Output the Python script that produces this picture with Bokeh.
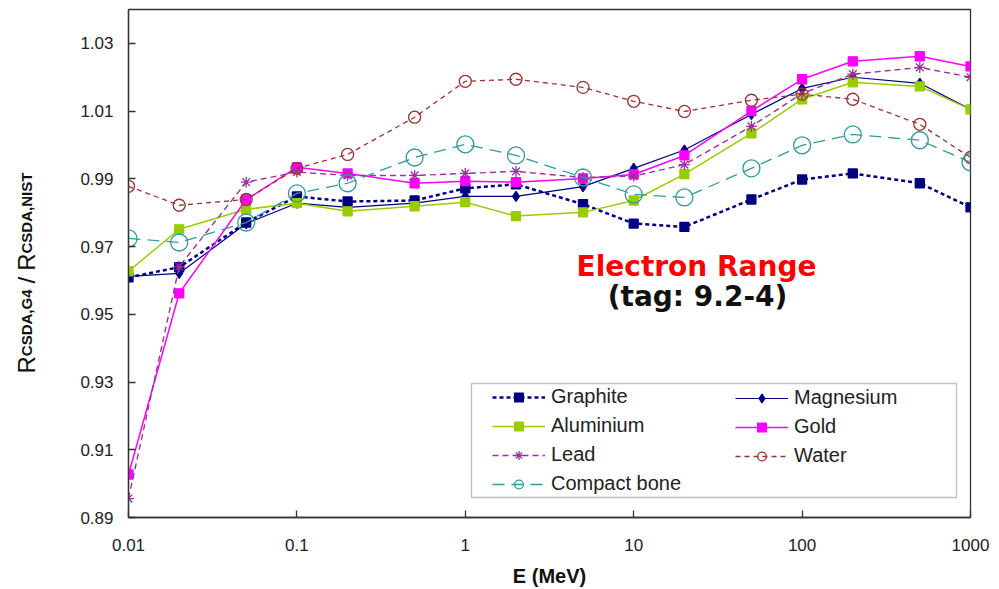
import math
from bokeh.plotting import figure
from bokeh.layouts import row
from bokeh.models import (Legend, LegendItem, Label, BoxAnnotation,
                          FixedTicker, PrintfTickFormatter, CustomJSTickFormatter)
from bokeh.embed import file_html
from bokeh.resources import INLINE

# ---------------- data ----------------
energy = [0.01, 0.02, 0.05, 0.1, 0.2, 0.5, 1, 2, 5, 10, 20, 50, 100, 200, 500, 1000]

graphite = [0.9609, 0.9639, 0.9771, 0.9848, 0.9833, 0.9836, 0.9872, 0.9884,
            0.9825, 0.9768, 0.9758, 0.9839, 0.9898, 0.9916, 0.9887, 0.9816]
magnesium = [0.9612, 0.9621, 0.9768, 0.9828, 0.9816, 0.9828, 0.9848, 0.9848,
             0.9877, 0.9931, 0.9985, 1.0090, 1.0167, 1.0200, 1.0182, 1.0105]
aluminium = [0.9627, 0.9751, 0.9810, 0.9828, 0.9804, 0.9819, 0.9831, 0.9790,
             0.9801, 0.9836, 0.9914, 1.0034, 1.0135, 1.0185, 1.0173, 1.0105]
gold = [0.9027, 0.9562, 0.9839, 0.9934, 0.9916, 0.9887, 0.9893, 0.9890,
        0.9901, 0.9913, 0.9969, 1.0100, 1.0194, 1.0247, 1.0262, 1.0232]
lead = [0.8956, 0.9641, 0.9890, 0.9920, 0.9910, 0.9910, 0.9916, 0.9922,
        0.9904, 0.9908, 0.9942, 1.0055, 1.0152, 1.0209, 1.0229, 1.0200]
water = [0.9878, 0.9822, 0.9839, 0.9931, 0.9972, 1.0082, 1.0188, 1.0194,
         1.0170, 1.0129, 1.0099, 1.0132, 1.0150, 1.0135, 1.0061, 0.9963]
compact_bone = [0.9724, 0.9712, 0.9771, 0.9857, 0.9887, 0.9963, 1.0002, 0.9969,
                0.9904, 0.9854, 0.9845, 0.9931, 0.9999, 1.0031, 1.0014, 0.9949]

x_ticks = [0.01, 0.1, 1, 10, 100, 1000]
y_ticks = [0.89, 0.91, 0.93, 0.95, 0.97, 0.99, 1.01, 1.03]
x_lim = (0.01, 1000)
y_lim = (0.89, 1.04)

# ---------------- layout ----------------
W, H = 999, 589
LW = 60                              # width of the strip holding the y title
FL, FR, FT, FB = 128, 970, 9, 517   # frame edges in page pixels


def px2x(px):
    a, b = math.log10(x_lim[0]), math.log10(x_lim[1])
    return 10 ** (a + (px - FL) / (FR - FL) * (b - a))


def py2y(py):
    return y_lim[0] + (FB - py) / (FB - FT) * (y_lim[1] - y_lim[0])


p = figure(frame_width=FR - FL, frame_height=FB - FT,
           min_border_left=FL - LW, min_border_right=W - FR,
           min_border_top=FT, min_border_bottom=H - FB,
           x_axis_type="log", x_range=x_lim, y_range=y_lim,
           output_backend="svg", toolbar_location=None,
           background_fill_color="white", border_fill_color="white")

p.xgrid.visible = False
p.ygrid.visible = False
p.outline_line_color = "#333333"
p.outline_line_width = 1.3

for ax in (p.xaxis[0], p.yaxis[0]):
    ax.axis_line_color = "#333333"
    ax.axis_line_width = 1.3
    ax.major_tick_line_color = "#333333"
    ax.major_tick_line_width = 1.3
    ax.major_tick_in = 7
    ax.major_tick_out = 0
    ax.minor_tick_line_color = None
    ax.major_label_text_font = "Liberation Sans"
    ax.major_label_text_font_size = "17px"
    ax.major_label_text_color = "#222222"

p.xaxis.ticker = FixedTicker(ticks=x_ticks)
p.xaxis.formatter = CustomJSTickFormatter(code="return String(tick)")
p.xaxis.major_label_standoff = 21
p.xaxis.axis_label = "E (MeV)"
p.xaxis.axis_label_text_font = "Liberation Sans"
p.xaxis.axis_label_text_font_style = "bold"
p.xaxis.axis_label_text_font_size = "20px"
p.xaxis.axis_label_text_color = "#111111"
p.xaxis.axis_label_standoff = 11

p.yaxis.ticker = FixedTicker(ticks=y_ticks)
p.yaxis.formatter = PrintfTickFormatter(format="%.2f")
p.yaxis.major_label_standoff = 15

# ---------------- series ----------------
series = [
    ("Graphite", graphite, "#000080", "4 3", 2.5, "square", 9, "#000080"),
    ("Magnesium", magnesium, "#000080", "solid", 1.2, "diamond", 10, "#000080"),
    ("Aluminium", aluminium, "#99CC00", "solid", 1.5, "square", 9, "#99CC00"),
    ("Gold", gold, "#FF00FF", "solid", 1.5, "square", 9, "#FF00FF"),
    ("Lead", lead, "#993399", "6 4", 1.4, "asterisk", 11, None),
    ("Water", water, "#993333", "5 4", 1.3, "circle", 12, None),
    ("Compact bone", compact_bone, "#339999", "12 7", 1.3, "circle", 17, None),
]

items = {}
for name, vals, color, dash, lw, marker, size, fill in series:
    lr = p.line(energy, vals, line_color=color, line_dash=dash, line_width=lw)
    sr = p.scatter(energy, vals, marker=marker, size=size, line_color=color,
                   line_width=1.3, fill_color=fill)
    items[name] = LegendItem(label=name, renderers=[lr, sr])

# legend frame
p.add_layout(BoxAnnotation(left=px2x(471), right=px2x(956),
                           top=py2y(383), bottom=py2y(497),
                           fill_color="white", fill_alpha=1.0,
                           line_color="#333333", line_width=1.3))


def make_legend(names, vx, vy):
    return Legend(items=[items[n] for n in names], location=(vx, vy),
                  border_line_color=None, background_fill_alpha=0,
                  padding=0, margin=0, spacing=6,
                  glyph_width=53, glyph_height=22, label_height=22,
                  label_standoff=6, label_text_font="Liberation Sans",
                  label_text_font_size="20px", label_text_color="#222222")


p.add_layout(make_legend(["Graphite", "Aluminium", "Lead", "Compact bone"],
                         492 - FL, FB - 495))
p.add_layout(make_legend(["Magnesium", "Gold", "Water"],
                         735 - FL, FB - 467))

# ---------------- annotation texts ----------------
p.add_layout(Label(x=px2x(696), y=py2y(266), text="Electron Range",
                   text_align="center", text_baseline="alphabetic",
                   text_font="DejaVu Sans", text_font_style="bold",
                   text_font_size="28px", text_color="#FF0000"))
p.add_layout(Label(x=px2x(697), y=py2y(296), text="(tag: 9.2-4)",
                   text_align="center", text_baseline="alphabetic",
                   text_font="DejaVu Sans", text_font_style="bold",
                   text_font_size="28px", text_color="#111111"))

# ---------------- y title strip (subscripted title, reads bottom to top) ----
t = figure(frame_width=LW, frame_height=H, min_border=0,
           x_range=(0, LW), y_range=(0, H),
           output_backend="svg", toolbar_location=None,
           x_axis_location=None, y_axis_location=None,
           background_fill_color="white", border_fill_color="white")
t.xgrid.visible = False
t.ygrid.visible = False
t.outline_line_color = None

arial_w = {"R": .722, "C": .722, "S": .667, "D": .722, "A": .722, ",": .278,
           "G": .778, "4": .556, "N": .722, "I": .278, "T": .611, "/": .278,
           " ": .278}
# (text, font size, bold?, gap before)
pieces = [("R", 24, False, 0), ("CSDA,G4", 15, True, 0), ("/", 24, False, 6),
          ("R", 24, False, 6), ("CSDA,NIST", 15, True, 0)]
pos = 364.0
for txt, fs, bold, pre in pieces:
    pos -= pre
    t.add_layout(Label(x=26, y=H - pos, text=txt, angle=math.pi / 2,
                       text_align="left", text_baseline="alphabetic",
                       text_font="Liberation Sans", text_font_size=f"{fs}px",
                       text_font_style="bold" if bold else "normal",
                       text_color="#111111"))
    pos -= sum(arial_w[c] for c in txt) * fs

layout = row(t, p, spacing=0)
open("out.html", "w").write(file_html(layout, INLINE))
